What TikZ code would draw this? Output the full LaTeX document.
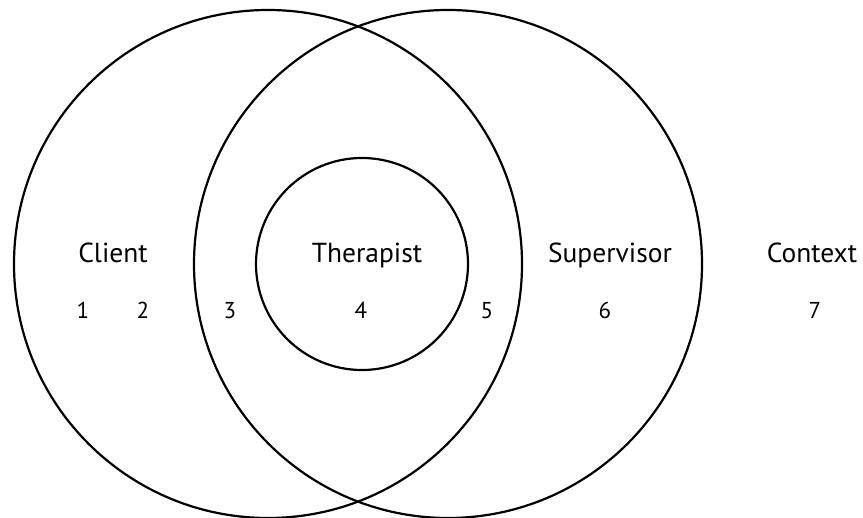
\documentclass[tikz,border=0pt]{standalone}
\usepackage{fontspec}
\setmainfont{PT Sans}

\begin{document}
\begin{tikzpicture}[
    x=1pt, y=-1pt,
    ring/.style={draw=black,line width=2.2pt},
    title/.style={font=\fontsize{27.5}{32}\selectfont,anchor=base,inner sep=0pt},
    num/.style={font=\fontsize{23}{27}\selectfont,anchor=base,inner sep=0pt}
]
    \useasboundingbox (0,0) rectangle (863,518);

    % Client and supervisor overlap, therapist inside
    \draw[ring] (268,264) circle (254);
    \draw[ring] (448,264) circle (254);
    \draw[ring] (362,264) circle (106);

    % Names
    \node[title] (client)     at (113,263) {Client};
    \node[title] (therapist)  at (367,263) {Therapist};
    \node[title] (supervisor) at (610,263) {Supervisor};
    \node[title] (context)    at (812,263) {Context};

    % Region numbers
    \foreach \n/\x in {1/83, 2/143, 3/230, 4/361, 5/487, 6/605, 7/815} {
        \node[num] (n\n) at (\x,319) {\n};
    }
\end{tikzpicture}
\end{document}
